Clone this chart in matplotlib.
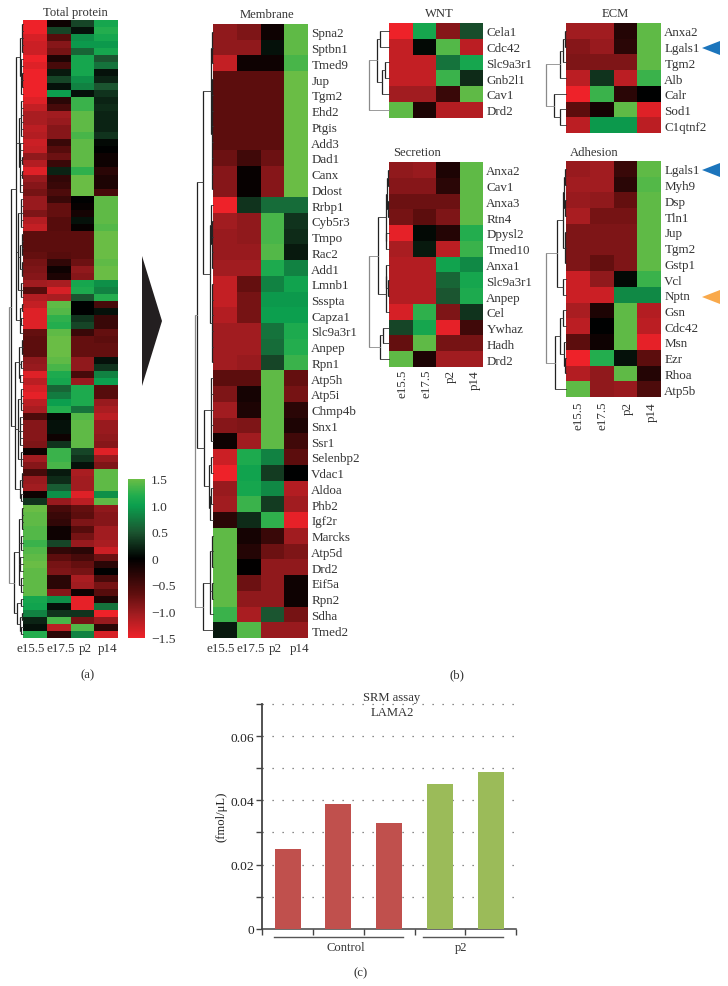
import matplotlib
matplotlib.use("Agg")
import matplotlib.pyplot as plt
import numpy as np
from matplotlib.colors import LinearSegmentedColormap, Normalize
from matplotlib.cm import ScalarMappable
from matplotlib.patches import Polygon

plt.rcParams['font.family'] = ['Liberation Serif', 'DejaVu Serif']
W, H = 728, 987
TXT = '#333333'
FS = 9.1

stages = ['e15.5', 'e17.5', 'p2', 'p14']

total_values = [
 [-1.5,-.1,.4,1.1],[-1.5,.4,.1,1.2],[-1.35,-.6,.9,1.1],[-1.3,-.9,.95,.95],[-1.3,-.8,.6,1.1],
 [-1.5,-.2,1.1,.5],[-1.4,-.5,1.1,.7],[-1.5,.15,1.1,.1],[-1.5,.4,.9,.2],[-1.5,.1,.8,.5],
 [-1.5,1.0,.1,.3],[-1.4,-.3,1.3,.2],[-1.25,-.5,1.3,.25],[-1.1,-1.05,1.45,.2],[-1.1,-1.0,1.45,.2],
 [-1.2,-.9,1.45,.2],[-1.15,-.9,1.35,.3],[-1.3,-.4,1.45,.05],[-1.25,-.6,1.45,0],[-.95,-.75,1.45,-.1],
 [-1.15,-.4,1.45,-.1],[-1.4,.2,1.25,-.3],[-1.0,-.35,1.5,-.2],[-.9,-.4,1.5,-.2],
 [-.8,-.55,1.5,-.5],[-1.0,-.4,0,1.45],[-1.0,-.7,-.05,1.45],[-.85,-.7,-.15,1.45],[-1.15,-.6,.1,1.45],
 [-1.25,-.6,-.05,1.4],[-.65,-.65,-.65,1.5],[-.65,-.65,-.65,1.5],[-.65,-.65,-.65,1.5],[-.7,-.6,-.65,1.5],[-.8,-.35,-.75,1.45],
 [-.85,-.1,-.95,1.5],[-.9,-.2,-.9,1.5],[-1.05,-1.1,1.1,.9],[-.6,-1.35,1.15,.8],[-1.15,-1.1,.5,1.2],
 [-1.25,1.45,0,-.5],[-1.4,1.4,0,.1],[-1.4,1.25,.3,-.4],[-1.4,1.2,.4,-.4],[-.7,1.45,-.4,-.7],
 [-.65,1.5,-.7,-.65],[-.65,1.5,-.7,-.7],[-.65,1.5,-.7,-.7],[-.95,1.45,-.95,.1],[-1.0,1.35,-.95,.3],
 [-1.4,1.15,-.5,.8],[-1.2,1.1,-1.0,1.0],[-1.35,.6,1.15,-.6],[-1.45,.75,1.15,-.6],[-1.2,1.0,1.15,-1.0],
 [-1.1,1.2,.7,-1.1],[-.55,.05,1.4,-1.2],[-.9,.1,1.45,-1.0],[-.9,.1,1.45,-1.0],[-.9,-.1,1.45,-.95],
 [-.85,.3,1.45,-.9],[-.1,1.3,.4,-1.4],[-1.05,1.3,.3,-1.0],[-.9,1.35,.1,-.85],[-.5,.15,-1.1,1.45],
 [-1.0,.25,-1.05,1.45],[-1.05,.55,-1.05,1.45],[-.1,.9,-1.4,.9],[.3,-1.0,-1.2,1.45],[1.5,-.5,-.7,-.95],
 [1.45,-.4,-.65,-.9],[1.45,-.35,-.85,-.9],[1.4,-.1,-.6,-1.05],[1.4,-.1,-.8,-1.05],[1.3,.4,-1.0,-1.1],
 [1.4,-.35,-.3,-1.3],[1.45,-.65,-.5,-.75],[1.5,-.8,-.7,-.3],[1.45,-.85,-.8,0],[1.45,-.3,-1.1,-.5],
 [1.45,-.3,-1.05,-.8],[1.45,-.9,-.1,-.6],[1.1,.9,-1.45,-.2],[1.05,.1,-1.45,.7],[.8,.3,.3,-1.5],
 [.2,1.35,-.8,-1.0],[.1,-1.2,1.4,-.3],[1.2,-.3,.8,-1.35],
]

membrane_genes = ['Spna2','Sptbn1','Tmed9','Jup','Tgm2','Ehd2','Ptgis','Add3','Dad1','Canx','Ddost','Rrbp1',
 'Cyb5r3','Tmpo','Rac2','Add1','Lmnb1','Ssspta','Capza1','Slc9a3r1','Anpep','Rpn1','Atp5h','Atp5i','Chmp4b',
 'Snx1','Ssr1','Selenbp2','Vdac1','Aldoa','Phb2','Igf2r','Marcks','Atp5d','Drd2','Eif5a','Rpn2','Sdha','Tmed2']
membrane_values = [
 [-.95,-.85,-.1,1.45],[-.95,-.95,.1,1.45],[-1.25,-.1,-.1,1.35],[-.65,-.65,-.65,1.5],[-.65,-.65,-.65,1.5],
 [-.65,-.65,-.65,1.5],[-.65,-.65,-.65,1.5],[-.65,-.65,-.65,1.5],[-.75,-.45,-.75,1.5],[-.9,-.05,-.9,1.5],
 [-.9,-.05,-.9,1.5],[-1.5,.3,.65,.65],[-1.05,-.95,1.35,.3],[-1,-.95,1.35,.25],[-1,-1,1.4,.15],
 [-1.05,-1.05,1.15,.8],[-1.25,-.7,.8,1.05],[-1.25,-.8,.95,.95],[-1.15,-.8,1.0,1.0],[-1.05,-1.05,.7,1.15],
 [-1.05,-1.05,.65,1.2],[-1.05,-1,.4,1.3],[-.65,-.65,1.45,-.7],[-.85,-.15,1.45,-.8],[-1.05,-.2,1.45,-.3],
 [-.9,-.85,1.45,-.2],[-.1,-1.05,1.45,-.45],[-1.3,1.15,.8,-.65],[-1.5,1.05,.35,0],[-1,1.1,.85,-1.15],
 [-1.05,1.3,.35,-1.05],[-.3,.25,1.25,-1.45],[1.45,-.15,-.4,-1.05],[1.45,-.25,-.75,-.85],[1.45,-.02,-.95,-.95],
 [1.45,-.75,-.95,-.1],[1.45,-.95,-.95,-.1],[1.3,-1.1,.5,-.8],[.15,1.4,-1,-1],
]

wnt_genes = ['Cela1','Cdc42','Slc9a3r1','Gnb2l1','Cav1','Drd2']
wnt_values = [[-1.5,1.1,-.9,.45],[-1.25,.05,1.4,-1.2],[-1.25,-1.25,.7,1.1],[-1.25,-1.25,1.3,.25],
 [-1.05,-1.05,-.4,1.45],[1.45,-.2,-1.15,-1.15]]

ecm_genes = ['Anxa2','Lgals1','Tgm2','Alb','Calr','Sod1','C1qtnf2']
ecm_values = [[-1.05,-1.05,-.25,1.45],[-.9,-1,-.3,1.45],[-.85,-.85,-.85,1.45],[-1.2,.3,-1.2,1.3],
 [-1.5,1.3,-.3,0],[-.65,-.15,1.45,-1.4],[-1.2,.95,.95,-1.2]]

secretion_genes = ['Anxa2','Cav1','Anxa3','Rtn4','Dpysl2','Tmed10','Anxa1','Slc9a3r1','Anpep','Cel','Ywhaz','Hadh','Drd2']
secretion_values = [[-.95,-1,-.2,1.45],[-.9,-.9,-.3,1.45],[-.75,-.75,-.75,1.45],[-.8,-.65,-.85,1.45],
 [-1.45,.05,-.25,1.2],[-1.1,.15,-1.2,1.3],[-1.15,-1.15,1.05,.85],[-1.15,-1.15,.6,1.1],[-1.15,-1.15,.5,1.15],
 [-1.35,1.25,-.85,.3],[.4,1.1,-1.45,-.45],[-.7,1.45,-.8,-.8],[1.45,-.2,-1.05,-1.05]]

adhesion_genes = ['Lgals1','Myh9','Dsp','Tln1','Jup','Tgm2','Gstp1','Vcl','Nptn','Gsn','Cdc42','Msn','Ezr','Rhoa','Atp5b']
adhesion_values = [[-1,-1.05,-.4,1.45],[-1.05,-1.05,-.3,1.4],[-1,-.95,-.7,1.45],[-1.1,-.8,-.8,1.45],
 [-.85,-.85,-.85,1.45],[-.85,-.85,-.85,1.45],[-.85,-.7,-.85,1.45],[-1.3,-.95,.05,1.3],[-1.3,-1.3,.85,.85],
 [-1.1,-.2,1.45,-1.15],[-1.2,0,1.45,-1.2],[-.65,-.1,1.45,-1.45],[-1.5,1.2,.1,-.65],[-1.15,-.95,1.45,-.25],
 [1.45,-.95,-1,-.55]]

# dendrograms: (height, child, child, ...); an int child is a row
total_tree = (14,
  (12,
    (7,
      (3,(1.5,0,1,2,3,4),(2,5,6,(1,7,8,9),10)),
      (4,(2,11,12,13,14,15,16),(3,17,18,(1.5,19,20),(1,21,22),23,24)),
      (5,(2,25,26,27,28,29),(3,(1,30,31,32,33),(1.5,34,35,36)),(2,37,38,39)),
      (3,(1,40,41),(2,42,43),44)),
    (8,
      (4,(1.5,45,46,47),(2,48,49),(3,50,51)),
      (5,(2,52,53,54,55),(3,56,57,58,59,60),(2,61,62,63)),
      (3,(1,64,65,66),(2,67,68)))),
  (9,
    (4,(1.5,69,70,71,72),(2,73,74,75),(3,76,77,78),(2,79,80,81)),
    (6,(2,82,83),(3,(1.5,84,85),(2,86,87)))))

membrane_tree = (18.5,
  (16,
    (10.3,
      (2.5,(1.5,0,1,2),(1,3,4,5,6,7,8,9,10)),
      (3,(2.5,11,(1.5,12,13,14,15)),(1.5,16,17,18,19,20,21))),
    (9,(2.5,22,23,24,25,26),(4,(2,27,28),(3,(2,29,30),31)))),
  (10,(3,(1.5,32,33,34),(1,35,36),37),38))

wnt_tree = (20,(12,(9,0,1),(7,(4,2,3),4)),5)
ecm_tree = (20,(6,(3,(1,0,1),2),3),(12,4,(6,5,6)))
secretion_tree = (20,
  (11,(3.5,(2,(1,0,1),(1,2,3)),(3,4,5)),(3.5,(3,6,(1.5,7,8)),9)),
  (9,(6,10,11),12))
adhesion_tree = (20,
  (9,(3,(2,(1,0,1),(1,2,3)),(1,4,5,6)),(3,7,8)),
  (11,(6,(3,9,10),(2.5,11,(1.5,12,13))),14))

bar_labels = ['Control', 'p2']
bar_groups = [0, 0, 0, 1, 1]
bar_values = [0.025, 0.039, 0.033, 0.045, 0.049]
bar_colors = ['#c0504d', '#9bbb59']
y_ticks = [0, 0.02, 0.04, 0.06]
y_tick_labels = ['0', '0.02', '0.04', '0.06']
cbar_ticks = [-1.5, -1.0, -0.5, 0, 0.5, 1.0, 1.5]
cbar_labels = ['\u22121.5', '\u22121.0', '\u22120.5', '0', '0.5', '1.0', '1.5']

fig = plt.figure(figsize=(W/100, H/100), dpi=100, facecolor='white')

def px_axes(l, t, r, b, **kw):
    return fig.add_axes([l/W, 1-b/H, (r-l)/W, (b-t)/H], **kw)

cmap = LinearSegmentedColormap.from_list('rg', [
    (0.0, '#ee2229'), (0.15, '#a01c20'), (0.2833, '#5c0d0d'), (0.5, '#000000'),
    (2/3, '#1b5530'), (5/6, '#0b9f4e'), (0.9, '#22ad4e'), (1.0, '#6abd45')])
norm = Normalize(-1.5, 1.5)

def draw_tree(ax, node, root=True):
    if isinstance(node, int):
        return node + 0.5, 0
    h = node[0]
    kids = [draw_tree(ax, c, False) for c in node[1:]]
    ys = [k[0] for k in kids]
    col = '#8a8a8a' if root else '#222222'
    ax.plot([h, h], [ys[0], ys[-1]], color=col, lw=0.9, solid_capstyle='butt', clip_on=False)
    for y, ch in kids:
        ax.plot([ch, h], [y, y], color=col if root else '#333333', lw=0.6, clip_on=False)
    return (ys[0] + ys[-1]) / 2, h

def heat(values, l, t, r, b, genes=None, tree=None, treew=20):
    ax = px_axes(l, t, r, b)
    v = np.array(values)
    ax.pcolormesh(np.arange(5), np.arange(len(v)+1), v, cmap=cmap, norm=norm, linewidth=0)
    ax.set_ylim(len(v), 0)
    ax.set_xlim(0, 4)
    ax.set_xticks([])
    for s in ax.spines.values():
        s.set_visible(False)
    ax.yaxis.tick_right()
    if genes:
        ax.set_yticks(np.arange(len(v))+0.5, genes, fontsize=FS+0.3, color=TXT)
        ax.tick_params(axis='y', length=0, pad=2.4)
    else:
        ax.set_yticks([])
    if tree is not None:
        tx = px_axes(l-treew, t, l, b)
        tx.set_xlim(treew, 0)
        tx.set_ylim(len(v), 0)
        tx.axis('off')
        draw_tree(tx, tree)
    return ax

heat(total_values, 23, 21, 118, 639, tree=total_tree, treew=15)
heat(membrane_values, 213, 25, 308, 639, membrane_genes, membrane_tree)
heat(wnt_values, 389, 24, 483, 118.5, wnt_genes, wnt_tree)
heat(ecm_values, 566, 24, 661, 134, ecm_genes, ecm_tree)
heat(secretion_values, 389, 163, 483, 368, secretion_genes, secretion_tree)
heat(adhesion_values, 566, 162, 661, 398, adhesion_genes, adhesion_tree)

# colour bar
cax = px_axes(128, 480, 145, 639)
cb = fig.colorbar(ScalarMappable(norm=norm, cmap=cmap), cax=cax)
cb.set_ticks(cbar_ticks, labels=cbar_labels, fontsize=FS+0.6, color=TXT)
cb.ax.tick_params(length=0, pad=4.5, labelcolor=TXT)
cb.outline.set_visible(False)

# bar chart
bx = px_axes(262.3, 705.2, 516, 929.7)
xs = np.arange(len(bar_values))
bx.bar(xs, bar_values, width=0.515, color=[bar_colors[g] for g in bar_groups], zorder=3, linewidth=0)
bx.set_xlim(-0.5, 4.5)
bx.set_ylim(0, 0.07)
bx.set_yticks(y_ticks, y_tick_labels, fontsize=FS+0.6, color='#222222')
bx.set_yticks(np.arange(0.01, 0.08, 0.02), minor=True)
bx.set_xticks(xs[:-1]+0.5)
bx.set_xticks([-0.5, 4.5], minor=True)
bx.set_xticklabels([])
bx.tick_params(axis='both', which='both', length=4, width=1, color='#444444', pad=2)
for y in np.arange(0.01, 0.071, 0.01):
    bx.plot([-0.5, 4.55], [y, y], color='#666666', lw=0.9, ls=(0, (1, 7)), zorder=1, clip_on=False)
for side in ['top', 'right']:
    bx.spines[side].set_visible(False)
bx.spines['left'].set_color('#444444')
bx.spines['left'].set_linewidth(1.3)
bx.spines['bottom'].set_color('#444444')
bx.spines['bottom'].set_linewidth(1.1)
bx.patch.set_alpha(0)

# overlay in pixel coordinates for labels and annotation shapes
ov = fig.add_axes([0, 0, 1, 1], facecolor='none')
ov.set_xlim(0, W)
ov.set_ylim(H, 0)
ov.axis('off')

def T(x, y, s, ha='center', va='center', rot=0, fs=FS, color=TXT):
    ov.text(x, y, s, ha=ha, va=va, rotation=rot, fontsize=fs, color=color)

T(75, 13, 'Total protein')
T(267, 15, 'Membrane')
T(439, 14, 'WNT')
T(615, 14, 'ECM')
T(417, 153, 'Secretion')
T(594, 153, 'Adhesion')

for x, s in zip([31, 61, 85, 108], stages):
    T(x, 649, s, fs=FS+0.3)
for x, s in zip([221, 251, 275, 300], stages):
    T(x, 649, s, fs=FS+0.3)
for x, s in zip([403, 427, 451, 475], stages):
    T(x, 370, s, va='top', rot=90, fs=FS+0.3)
for x, s in zip([579, 603, 628, 652], stages):
    T(x, 402, s, va='top', rot=90, fs=FS+0.3)

T(88, 675, '(a)')
T(457, 675, '(b)')
T(361, 973, '(c)')

T(392, 698, 'SRM assay')
T(392, 712.7, 'LAMA2')
T(221, 817, '(fmol/\u03bcL)', rot=90, color='#222222')
T(346, 948, bar_labels[0])
T(461, 948, bar_labels[1])
ov.plot([274, 403], [938, 938], color='#555555', lw=1)
ov.plot([423, 503], [938, 938], color='#555555', lw=1)

ov.add_patch(Polygon([(142, 257), (162, 322), (142, 387)], closed=True, fc='#231f20', ec='none'))
ov.add_patch(Polygon([(702, 49), (720, 42), (720, 56)], closed=True, fc='#1c75bc', ec='none'))
ov.add_patch(Polygon([(702, 171), (720, 164), (720, 178)], closed=True, fc='#1c75bc', ec='none'))
ov.add_patch(Polygon([(702, 298), (720, 291), (720, 305)], closed=True, fc='#f9a94b', ec='none'))

fig.savefig('out.png', dpi=100)
